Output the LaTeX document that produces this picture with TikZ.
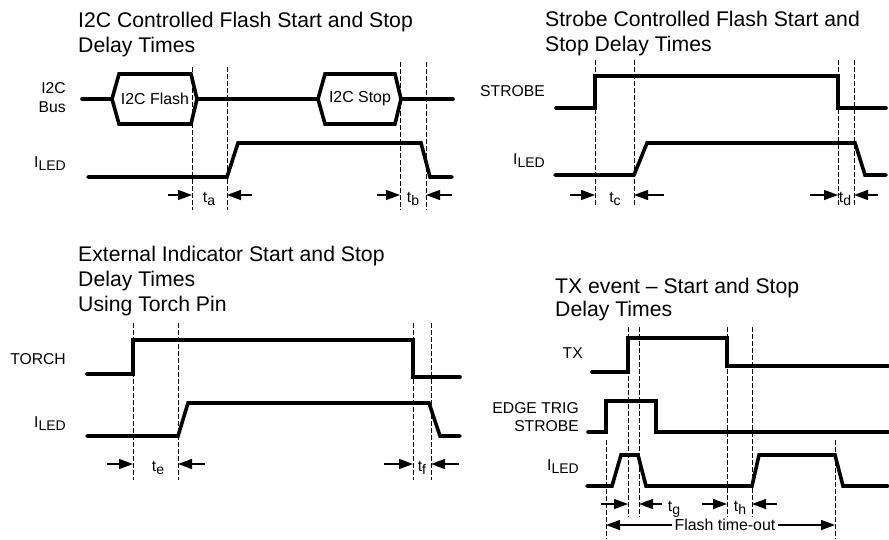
\documentclass[tikz,border=0pt]{standalone}
\usepackage{fontspec}
\setmainfont{Liberation Sans}
\usetikzlibrary{arrows.meta}
\newcommand\lowsub[1]{\raisebox{-3.5pt}{\fontsize{14}{14}\selectfont #1}}
\begin{document}
\begin{tikzpicture}[x=1pt,y=-1pt,
  sig/.style={line width=3.6pt,line cap=round,line join=miter},
  guide/.style={line width=0.9pt,dash pattern=on 4.5pt off 2.5pt},
  meas/.style={line width=1.3pt,-{Triangle[length=14pt,width=10pt]}},
  dmeas/.style={line width=1.3pt,{Triangle[length=14pt,width=10pt]}-{Triangle[length=14pt,width=10pt]}},
  ttl/.style={anchor=base west,inner sep=0pt,font=\fontsize{21.2}{25}\selectfont},
  lbl/.style={anchor=base east,inner sep=0pt,font=\fontsize{15.7}{19}\selectfont},
  tlbl/.style={anchor=base,inner sep=0pt,font=\fontsize{15.7}{19}\selectfont},
  hexlbl/.style={inner sep=0pt,font=\fontsize{15.9}{19}\selectfont}]
\useasboundingbox (0,0) rectangle (889,539);
\fill[white] (0,0) rectangle (889,539);

% ---------------- Panel 1 ----------------
\node[ttl] (p1t1) at (78,27) {I2C Controlled Flash Start and Stop};
\node[ttl] (p1t2) at (78,52) {Delay Times};
\node[lbl] (p1bus1) at (66,93) {I2C};
\node[lbl] (p1bus2) at (66,112) {Bus};
\node[lbl] (p1led) at (66,167) {I\lowsub{LED}};
\draw[sig] (82,99) -- (112,99);
\draw[sig] (112,99) -- (119,74) -- (191,74) -- (197,99) -- (191,124) -- (119,124) -- cycle;
\draw[sig] (197,99) -- (318,99);
\draw[sig] (318,99) -- (325,74) -- (395,74) -- (401,99) -- (395,124) -- (325,124) -- cycle;
\draw[sig] (401,99) -- (453,99);
\node[hexlbl] (p1flash) at (155,99) {I2C Flash};
\node[hexlbl] (p1stop) at (360,99) {I2C Stop};
\draw[sig] (88,177) -- (227,177) -- (238,143) -- (421,143) -- (430,177) -- (452,177);
\foreach \x/\t in {192/67,227/67,400/62,426/62} \draw[guide] (\x,\t) -- (\x,210);
\coordinate (a1) at (192,195); \coordinate (a2) at (227,195);
\coordinate (b1) at (400,195); \coordinate (b2) at (426,195);
\draw[meas] (168,195) -- (a1);
\draw[meas] (252,195) -- (a2);
\draw[meas] (377,195) -- (b1);
\draw[meas] (452,195) -- (b2);
\node[tlbl] (ta) at (209,202) {t\lowsub{a}};
\node[tlbl] (tb) at (413,202) {t\lowsub{b}};

% ---------------- Panel 2 ----------------
\node[ttl] (p2t1) at (545,26) {Strobe Controlled Flash Start and};
\node[ttl] (p2t2) at (545,51) {Stop Delay Times};
\node[lbl] (p2str) at (545,96) {STROBE};
\node[lbl] (p2led) at (545,164) {I\lowsub{LED}};
\draw[sig] (556,108) -- (595,108) -- (595,76) -- (838,76) -- (838,108) -- (886,108);
\draw[sig] (555,175) -- (634,175) -- (647,143) -- (855,143) -- (865,175) -- (886,175);
\foreach \x in {595,634,838,854} \draw[guide] (\x,60) -- (\x,205);
\coordinate (c1) at (595,195); \coordinate (c2) at (634,195);
\coordinate (d1) at (838,195); \coordinate (d2) at (854,195);
\draw[meas] (570,195) -- (c1);
\draw[meas] (664,195) -- (c2);
\draw[meas] (810,195) -- (d1);
\draw[meas] (878,195) -- (d2);
\node[tlbl] (tc) at (615,202) {t\lowsub{c}};
\node[tlbl] (td) at (845,202) {t\lowsub{d}};

% ---------------- Panel 3 ----------------
\node[ttl] (p3t1) at (78,261) {External Indicator Start and Stop};
\node[ttl] (p3t2) at (78,286) {Delay Times};
\node[ttl] (p3t3) at (78,311) {Using Torch Pin};
\node[lbl] (p3tor) at (66,364) {TORCH};
\node[lbl] (p3led) at (66,427) {I\lowsub{LED}};
\draw[sig] (87,374) -- (133,374) -- (133,340) -- (413,340) -- (413,377) -- (460,377);
\draw[sig] (87,436) -- (178,436) -- (188,403) -- (429,403) -- (440,436) -- (460,436);
\foreach \x in {133,178,413,431} \draw[guide] (\x,323) -- (\x,480);
\coordinate (e1) at (133,464); \coordinate (e2) at (178,464);
\coordinate (f1) at (413,464); \coordinate (f2) at (431,464);
\draw[meas] (107,464) -- (e1);
\draw[meas] (205,464) -- (e2);
\draw[meas] (384,464) -- (f1);
\draw[meas] (459,464) -- (f2);
\node[tlbl] (te) at (158,471) {t\lowsub{e}};
\node[tlbl] (tf) at (422,471) {t\lowsub{f}};

% ---------------- Panel 4 ----------------
\node[ttl] (p4t1) at (555,293) {TX event – Start and Stop};
\node[ttl] (p4t2) at (555,316) {Delay Times};
\node[lbl] (p4tx) at (583,358) {TX};
\node[lbl] (p4e1) at (579,413) {EDGE TRIG};
\node[lbl] (p4e2) at (579,431) {STROBE};
\node[lbl] (p4led) at (579,470) {I\lowsub{LED}};
\draw[sig] (592,372) -- (628,372) -- (628,338) -- (727,338) -- (727,366) -- (888,366);
\draw[sig] (588,432) -- (606,432) -- (606,401) -- (656,401) -- (656,432) -- (888,432);
\draw[sig] (587,486) -- (612,486) -- (621,455) -- (638,455) -- (646,486) -- (752,486)
  -- (759,455) -- (835,455) -- (843,486) -- (888,486);
\foreach \x in {606,835} \draw[guide] (\x,440) -- (\x,539);
\foreach \x in {628,639,727,752} \draw[guide] (\x,327) -- (\x,517);
\coordinate (g1) at (628,504); \coordinate (g2) at (639,504);
\coordinate (h1) at (727,504); \coordinate (h2) at (752,504);
\draw[meas] (601,504) -- (g1);
\draw[meas] (662,504) -- (g2);
\draw[meas] (702,504) -- (h1);
\draw[meas] (777,504) -- (h2);
\node[tlbl] (tg) at (674,511) {t\lowsub{g}};
\node[tlbl] (th) at (740,511) {t\lowsub{h}};
\coordinate (fo1) at (606,525); \coordinate (fo2) at (835,525);
\draw[dmeas] (fo1) -- (fo2);
\node[hexlbl,fill=white,inner xsep=3pt,inner ysep=1pt] (fto) at (725,525) {Flash time-out};
\end{tikzpicture}
\end{document}
